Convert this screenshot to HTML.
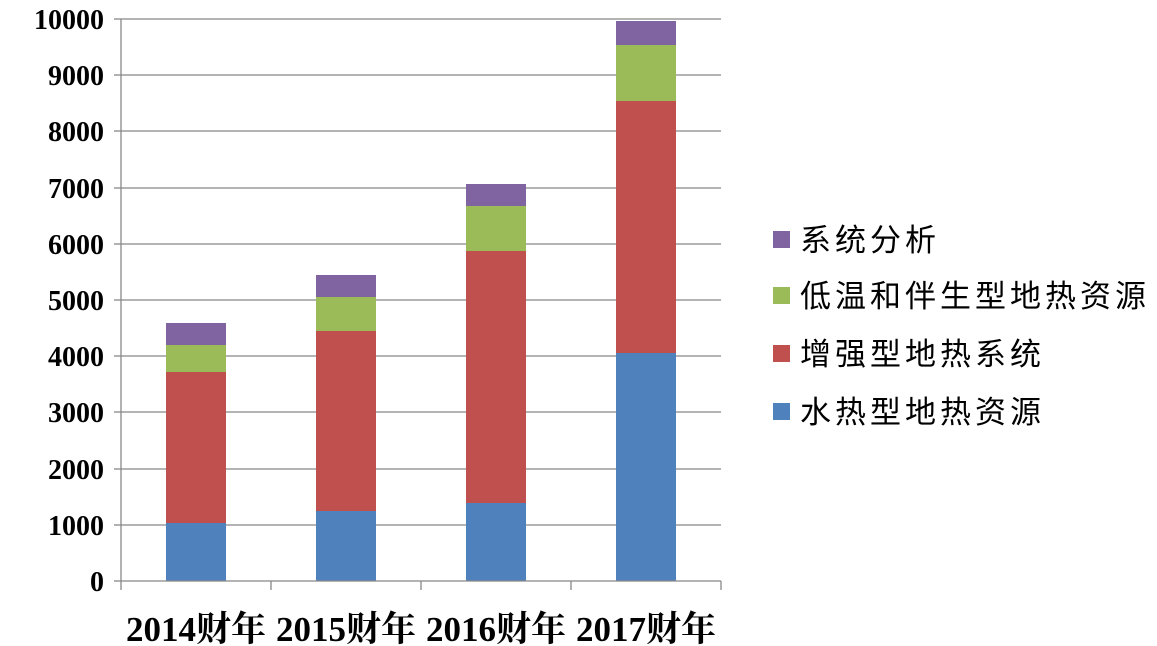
<!DOCTYPE html>
<html><head><meta charset="utf-8"><style>
body{margin:0;background:#fff;}
svg{display:block;}
.y{font-family:"Liberation Serif","Noto Serif CJK SC",serif;font-weight:bold;font-size:28px;}
.x{font-family:"Liberation Serif","Noto Serif CJK SC",serif;font-weight:bold;font-size:35px;}
.l{font-family:"Liberation Sans","Noto Sans CJK SC",sans-serif;font-size:31px;letter-spacing:4px;}
</style></head><body>
<svg width="1157" height="646" viewBox="0 0 1157 646">
<g stroke="#888" stroke-width="1.3">
<line x1="121" y1="19" x2="721" y2="19"/><line x1="121" y1="75" x2="721" y2="75"/>
<line x1="121" y1="131" x2="721" y2="131"/><line x1="121" y1="188" x2="721" y2="188"/>
<line x1="121" y1="244" x2="721" y2="244"/><line x1="121" y1="300" x2="721" y2="300"/>
<line x1="121" y1="356" x2="721" y2="356"/><line x1="121" y1="412" x2="721" y2="412"/>
<line x1="121" y1="469" x2="721" y2="469"/><line x1="121" y1="525" x2="721" y2="525"/>
</g>
<g>
<rect x="166" y="523" width="60" height="58" fill="#4F81BD"/>
<rect x="166" y="372" width="60" height="151" fill="#C0504D"/>
<rect x="166" y="345" width="60" height="27" fill="#9BBB59"/>
<rect x="166" y="323" width="60" height="22" fill="#8064A2"/>
<rect x="316" y="511" width="60" height="70" fill="#4F81BD"/>
<rect x="316" y="331" width="60" height="180" fill="#C0504D"/>
<rect x="316" y="297" width="60" height="34" fill="#9BBB59"/>
<rect x="316" y="275" width="60" height="22" fill="#8064A2"/>
<rect x="466" y="503" width="60" height="78" fill="#4F81BD"/>
<rect x="466" y="251" width="60" height="252" fill="#C0504D"/>
<rect x="466" y="206" width="60" height="45" fill="#9BBB59"/>
<rect x="466" y="184" width="60" height="22" fill="#8064A2"/>
<rect x="616" y="353" width="60" height="228" fill="#4F81BD"/>
<rect x="616" y="101" width="60" height="252" fill="#C0504D"/>
<rect x="616" y="45" width="60" height="56" fill="#9BBB59"/>
<rect x="616" y="21" width="60" height="24" fill="#8064A2"/>
</g>
<g stroke="#888" stroke-width="1.3">
<line x1="121" y1="19" x2="121" y2="581"/><line x1="121" y1="581" x2="721" y2="581"/>
<line x1="121" y1="581" x2="121" y2="590"/><line x1="271" y1="581" x2="271" y2="590"/>
<line x1="421" y1="581" x2="421" y2="590"/><line x1="571" y1="581" x2="571" y2="590"/>
<line x1="721" y1="581" x2="721" y2="590"/>
<line x1="114" y1="19" x2="121" y2="19"/><line x1="114" y1="75" x2="121" y2="75"/>
<line x1="114" y1="131" x2="121" y2="131"/><line x1="114" y1="188" x2="121" y2="188"/>
<line x1="114" y1="244" x2="121" y2="244"/><line x1="114" y1="300" x2="121" y2="300"/>
<line x1="114" y1="356" x2="121" y2="356"/><line x1="114" y1="412" x2="121" y2="412"/>
<line x1="114" y1="469" x2="121" y2="469"/><line x1="114" y1="525" x2="121" y2="525"/>
<line x1="114" y1="581" x2="121" y2="581"/>
</g>
<g class="y" text-anchor="end">
<text x="104" y="29">10000</text><text x="104" y="85">9000</text><text x="104" y="141">8000</text>
<text x="104" y="198">7000</text><text x="104" y="254">6000</text><text x="104" y="310">5000</text>
<text x="104" y="366">4000</text><text x="104" y="422">3000</text><text x="104" y="479">2000</text>
<text x="104" y="535">1000</text><text x="104" y="591">0</text>
</g>
<g class="x" text-anchor="middle">
<text x="196" y="641">2014财年</text><text x="346" y="641">2015财年</text>
<text x="496" y="641">2016财年</text><text x="646" y="641">2017财年</text>
</g>
<rect x="773" y="231" width="17" height="17" fill="#8064A2"/>
<rect x="773" y="287" width="17" height="17" fill="#9BBB59"/>
<rect x="773" y="345" width="17" height="17" fill="#C0504D"/>
<rect x="773" y="403" width="17" height="17" fill="#4F81BD"/>
<g class="l">
<text x="800" y="251">系统分析</text>
<text x="800" y="307">低温和伴生型地热资源</text>
<text x="800" y="365">增强型地热系统</text>
<text x="800" y="423">水热型地热资源</text>
</g>
</svg>
</body></html>
